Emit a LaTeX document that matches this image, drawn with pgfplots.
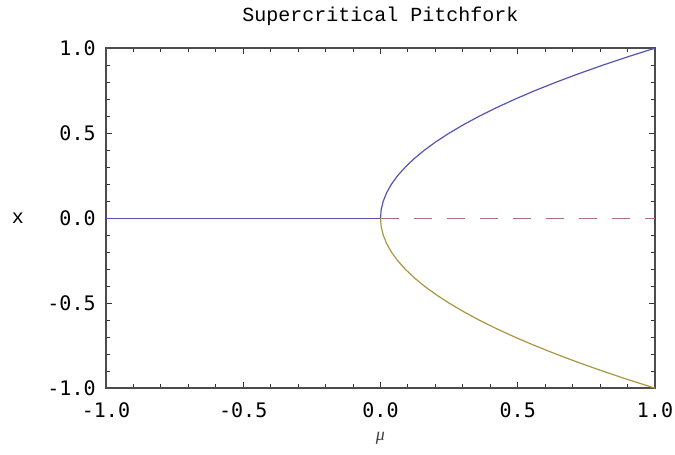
\documentclass[border=0pt]{standalone}
\usepackage{fontspec}
\setmainfont{Liberation Mono}
\newfontfamily\serifit{Liberation Serif}
\newfontfamily\tickfont{DejaVu Sans Mono}
\usepackage{pgfplots}
\pgfplotsset{compat=1.18}
\definecolor{brBlue}{HTML}{5454B4}
\definecolor{brPink}{HTML}{AD6A8C}
\definecolor{brOlive}{HTML}{AA9641}

\begin{document}
\begin{tikzpicture}
\begin{axis}[
  scale only axis,
  width=274.5pt, height=170pt,
  xmin=-1, xmax=1, ymin=-1, ymax=1,
  xtick={-1,-0.5,0,0.5,1},
  ytick={-1,-0.5,0,0.5,1},
  minor tick num=4,
  tick align=inside,
  major tick length=3pt,
  minor tick length=2pt,
  axis line style={black!70, line width=0.7pt},
  tick style={black!80, line width=0.5pt},
  /pgf/number format/assume math mode=true,
  /pgf/number format/.cd, fixed, fixed zerofill, precision=1, /pgfplots/.cd,
  tick label style={font=\tickfont\fontsize{10}{12}\selectfont},
  xticklabel style={anchor=center, inner sep=0pt, yshift=-11pt},
  yticklabel style={anchor=east, inner sep=0pt, xshift=-5pt},
  title={Supercritical Pitchfork},
  title style={font=\fontsize{10}{12}\selectfont, at={(axis description cs:0.5,1)}, anchor=base, yshift=7.5pt},
  xlabel={{\serifit\itshape μ}},
  xlabel style={font=\fontsize{9}{11}\selectfont, text=black!75, at={(axis description cs:0.5,0)}, anchor=center, yshift=-25pt},
  ylabel={x},
  ylabel style={font=\fontsize{10}{12}\selectfont, at={(axis description cs:0,0.5)}, anchor=center, rotate=-90, xshift=-44pt},
]
\coordinate (sw) at (rel axis cs:0,0);
\coordinate (ne) at (rel axis cs:1,1);
% stable origin branch
\addplot[brBlue, line width=0.6pt] coordinates {(-1,0) (0,0)};
% unstable origin branch
\addplot[brPink, line width=0.6pt, dash pattern=on 9pt off 7.5pt] coordinates {(0,0) (1,0)};
% upper branch x = sqrt(mu)
\addplot[brBlue, line width=0.6pt] coordinates {
(0,0) (0.0025,0.05) (0.01,0.10) (0.0225,0.15) (0.04,0.20) (0.0625,0.25)
(0.09,0.30) (0.1225,0.35) (0.16,0.40) (0.2025,0.45) (0.25,0.50)
(0.3025,0.55) (0.36,0.60) (0.4225,0.65) (0.49,0.70) (0.5625,0.75)
(0.64,0.80) (0.7225,0.85) (0.81,0.90) (0.9025,0.95) (1,1)};
% lower branch x = -sqrt(mu)
\addplot[brOlive, line width=0.6pt] coordinates {
(0,0) (0.0025,-0.05) (0.01,-0.10) (0.0225,-0.15) (0.04,-0.20) (0.0625,-0.25)
(0.09,-0.30) (0.1225,-0.35) (0.16,-0.40) (0.2025,-0.45) (0.25,-0.50)
(0.3025,-0.55) (0.36,-0.60) (0.4225,-0.65) (0.49,-0.70) (0.5625,-0.75)
(0.64,-0.80) (0.7225,-0.85) (0.81,-0.90) (0.9025,-0.95) (1,-1)};
\end{axis}
\path ([shift={(-53pt,-33pt)}]sw) rectangle ([shift={(10pt,21.5pt)}]ne);
\end{tikzpicture}
\end{document}
